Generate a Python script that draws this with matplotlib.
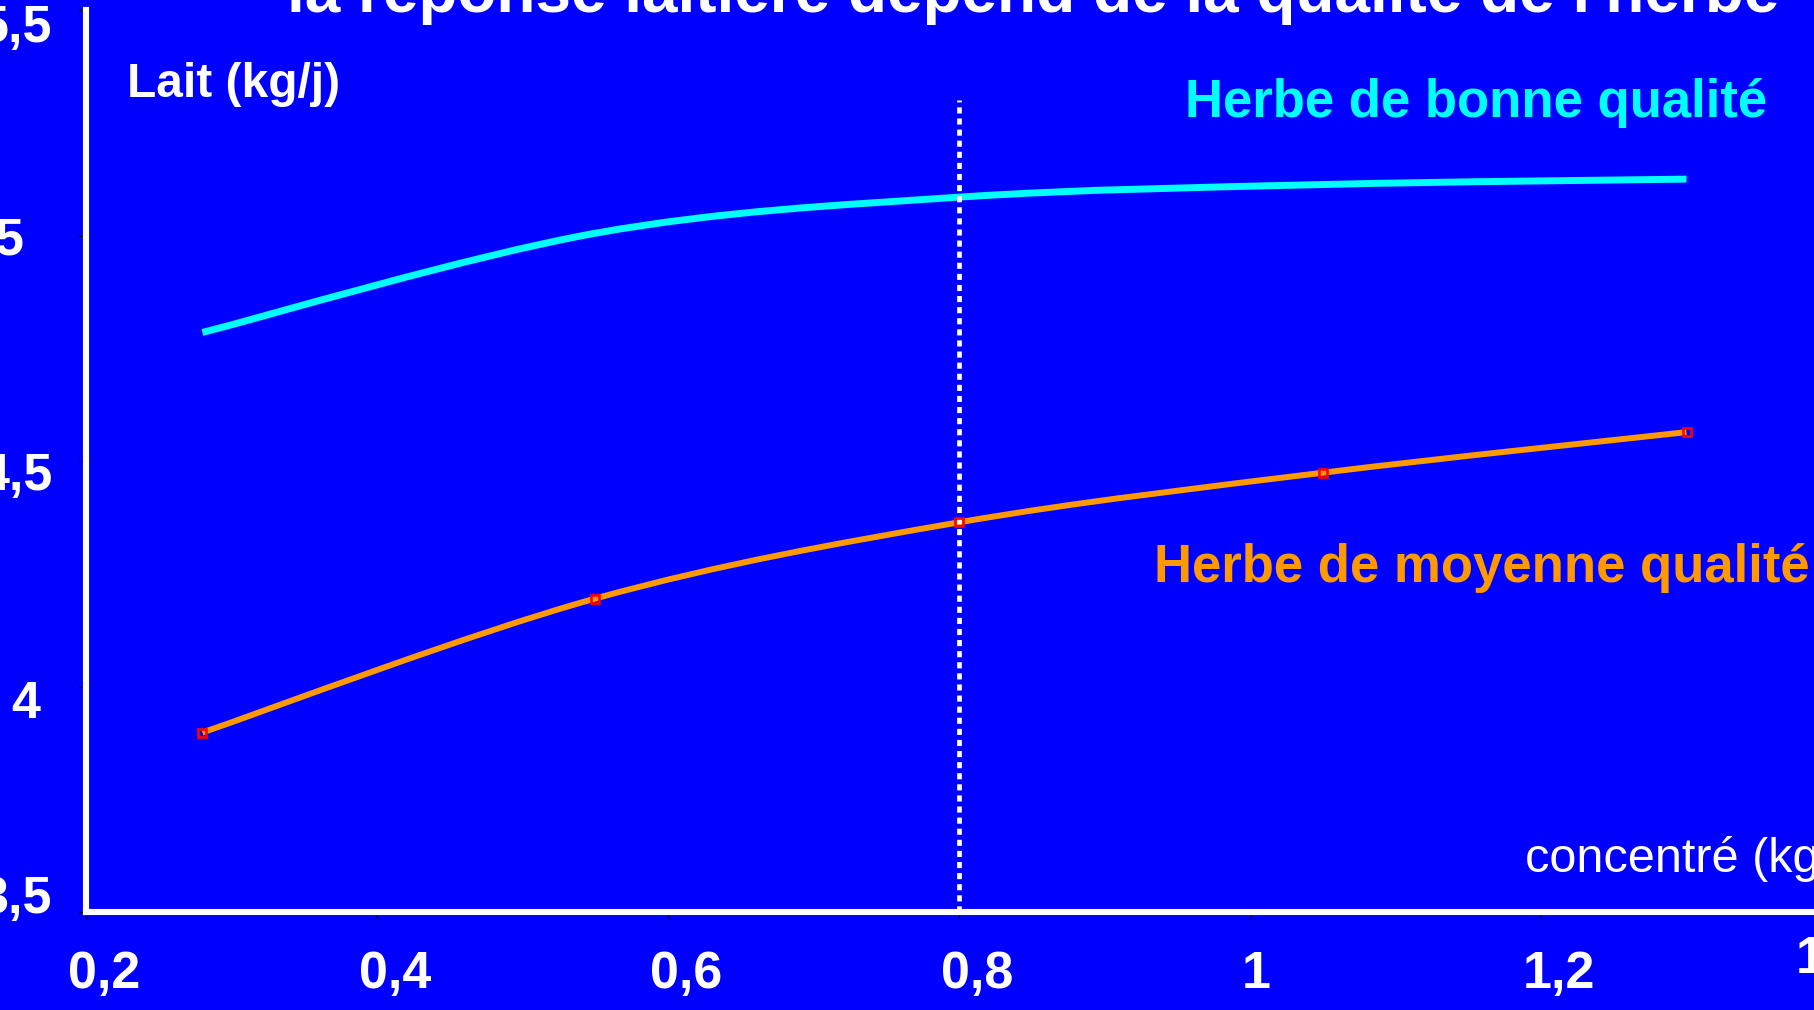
import matplotlib
matplotlib.use("Agg")
import matplotlib.pyplot as plt
from matplotlib.path import Path
from matplotlib.patches import PathPatch
from matplotlib.transforms import ScaledTranslation
import numpy as np

# ---- data ----
x_conc = [0.28, 0.55, 0.80, 1.05, 1.30]
lait_bonne = [4.785, 5.005, 5.085, 5.113, 5.125]
lait_moyenne = [3.898, 4.195, 4.364, 4.474, 4.564]
x_ticks = [0.2, 0.4, 0.6, 0.8, 1.0, 1.2, 1.4]
x_labels = ["0,2", "0,4", "0,6", "0,8", "1", "1,2", "1,4"]
y_ticks = [3.5, 4.0, 4.5, 5.0, 5.5]
y_labels = ["3,5", "4", "4,5", "5", "5,5"]
x_ref = 0.8
ref_top = 5.3

title = "la réponse laitière dépend de la qualité de l'herbe"
y_title = "Lait (kg/j)"
x_title = "concentré (kg/j)"
lbl_bonne = "Herbe de bonne qualité"
lbl_moyenne = "Herbe de moyenne qualité"

BG = "#0000FF"
CYAN = "#00FFFF"
ORANGE = "#FF9900"

plt.rcParams["font.family"] = ["Liberation Sans", "DejaVu Sans"]

W, H = 1814, 1010
fig = plt.figure(figsize=(W / 100, H / 100), dpi=100)
fig.patch.set_facecolor(BG)

left_px, bottom_px = 86, 912
unit_x = 1455.0
unit_y = 451.0
xmin, xmax = 0.2, 1.4
ymin, ymax = 3.5, 5.5
ax = fig.add_axes([left_px / W, (H - bottom_px) / H,
                   (xmax - xmin) * unit_x / W, (ymax - ymin) * unit_y / H])
ax.set_facecolor(BG)
ax.set_xlim(xmin, xmax)
ax.set_ylim(ymin, ymax)


def smooth_path(xs, ys):
    pts = np.column_stack([xs, ys]).astype(float)
    n = len(pts)
    verts = [pts[0]]
    codes = [Path.MOVETO]
    for i in range(n - 1):
        p0 = pts[i - 1] if i > 0 else pts[i]
        p1 = pts[i]
        p2 = pts[i + 1]
        p3 = pts[i + 2] if i + 2 < n else pts[i + 1]
        c1 = p1 + (p2 - p0) / 6.0
        c2 = p2 - (p3 - p1) / 6.0
        verts += [c1, c2, p2]
        codes += [Path.CURVE4] * 3
    return Path(verts, codes)


ax.add_patch(PathPatch(smooth_path(x_conc, lait_bonne), fill=False,
                       edgecolor=CYAN, linewidth=5.0, capstyle="butt",
                       zorder=3))
ax.add_patch(PathPatch(smooth_path(x_conc, lait_moyenne), fill=False,
                       edgecolor=ORANGE, linewidth=4.3, capstyle="butt",
                       zorder=3))
ax.plot([x_ref, x_ref], [ymin, ref_top], color="white", linewidth=3.4,
        dashes=(1.3, 1.05), dash_capstyle="butt", zorder=4)
ax.plot(x_conc, lait_moyenne, linestyle="none", marker="s", markersize=5.8,
        markerfacecolor="none", markeredgecolor="#FF0000",
        markeredgewidth=1.9, zorder=5)

for side in ["top", "right"]:
    ax.spines[side].set_visible(False)
for side in ["left", "bottom"]:
    ax.spines[side].set_color("white")
    ax.spines[side].set_linewidth(4.4)
    ax.spines[side].set_zorder(2)

ax.set_xticks(x_ticks, labels=x_labels)
ax.set_yticks(y_ticks, labels=y_labels)
ax.tick_params(axis="both", direction="out", length=4.7, width=0.8,
               color="black", labelcolor="white", labelsize=37.5)
ax.tick_params(axis="x", pad=22.5)
ax.tick_params(axis="y", pad=19.5)
for lab in ax.get_xticklabels() + ax.get_yticklabels():
    lab.set_fontweight("bold")

# per-label pixel offsets (dx right, dy down) to follow the reference
x_off = {"0,2": (18, 0), "0,4": (18, 0), "0,6": (18, 0), "0,8": (18, 0),
         "1": (6, 0), "1,2": (18, 0), "1,4": (0, -15)}
y_off = {"3,5": (0, -18), "4": (-12, 12), "4,5": (0, 10), "5": (-29, 0),
         "5,5": (0, 13)}
for lab in ax.get_xticklabels():
    dx, dy = x_off.get(lab.get_text(), (0, 0))
    lab.set_transform(lab.get_transform() +
                      ScaledTranslation(dx / 100, -dy / 100, fig.dpi_scale_trans))
for lab in ax.get_yticklabels():
    dx, dy = y_off.get(lab.get_text(), (0, 0))
    lab.set_transform(lab.get_transform() +
                      ScaledTranslation(dx / 100, -dy / 100, fig.dpi_scale_trans))


def ftext(x, y, s, **kw):
    fig.text(x / W, 1 - y / H, s, va="baseline", ha="left", **kw)


ftext(287, 12, title, color="white", fontsize=46, fontweight="bold")
ftext(127, 97, y_title, color="white", fontsize=34.5, fontweight="bold")
ftext(1185, 117, lbl_bonne, color=CYAN, fontsize=38, fontweight="bold")
ftext(1154, 582, lbl_moyenne, color=ORANGE, fontsize=38, fontweight="bold")
ftext(1525, 872, x_title, color="white", fontsize=35)

fig.savefig("out.png", dpi=100, facecolor=BG)
